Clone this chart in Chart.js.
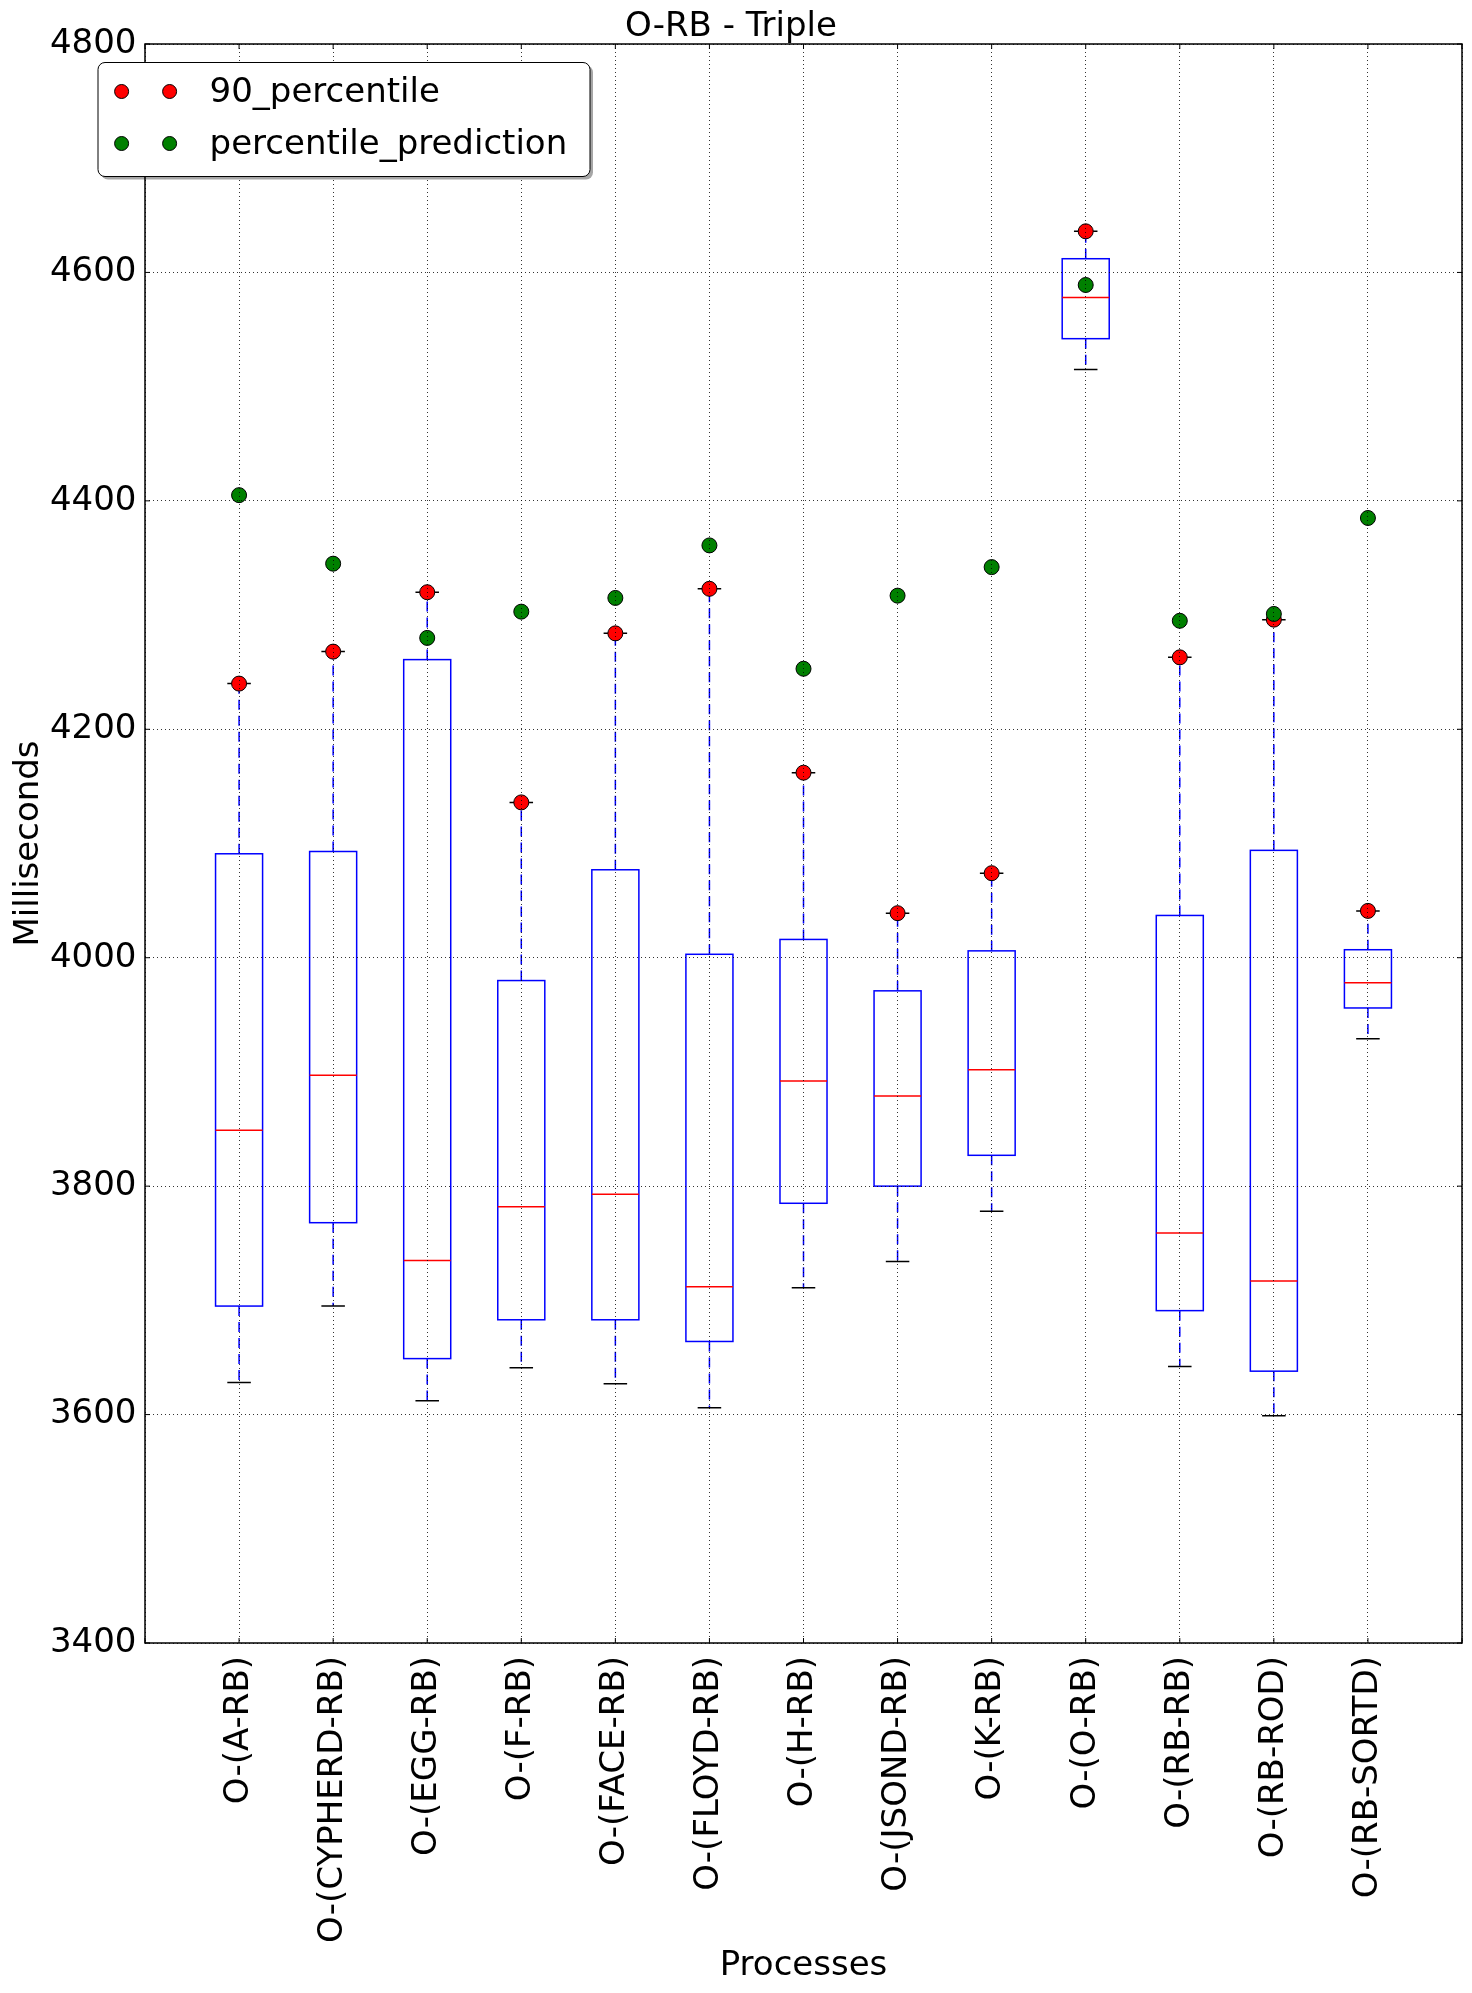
<!DOCTYPE html>
<html>
<head>
<title>O-RB - Triple</title>
<script src="https://cdn.jsdelivr.net/npm/chart.js@4.4.0/dist/chart.umd.min.js"></script>
<style>
  body { margin: 0; background: #fff; }
</style>
</head>
<body>
<canvas id="box" width="1472" height="1993"></canvas>
<script>
// boxplot stats, one entry per process
var processes = ['O-(A-RB)', 'O-(CYPHERD-RB)', 'O-(EGG-RB)', 'O-(F-RB)', 'O-(FACE-RB)', 'O-(FLOYD-RB)',
  'O-(H-RB)', 'O-(JSOND-RB)', 'O-(K-RB)', 'O-(O-RB)', 'O-(RB-RB)', 'O-(RB-ROD)', 'O-(RB-SORTD)'];
var whiskerLow   = [3628, 3695, 3612, 3641, 3627, 3606, 3711, 3734, 3778, 4515, 3642, 3599, 3929];
var quartileLow  = [3695, 3768, 3649, 3683, 3683, 3664, 3785, 3800, 3827, 4542, 3691, 3638, 3956];
var medians      = [3849, 3897, 3735, 3782, 3793, 3712, 3892, 3879, 3902, 4578, 3759, 3717, 3978];
var quartileHigh = [4091, 4093, 4261, 3980, 4077, 4003, 4016, 3971, 4006, 4612, 4037, 4094, 4007];
var whiskerHigh  = [4240, 4268, 4320, 4136, 4284, 4323, 4162, 4039, 4074, 4636, 4263, 4296, 4041];
var percentile90 = [4240, 4268, 4320, 4136, 4284, 4323, 4162, 4039, 4074, 4636, 4263, 4296, 4041];
var percentilePrediction = [4405, 4345, 4280, 4303, 4315, 4361, 4253, 4317, 4342, 4589, 4295, 4301, 4385];

Chart.defaults.font.family = "'DejaVu Sans', sans-serif";
Chart.defaults.font.size = 34;
Chart.defaults.color = '#000';

function toPoints(values) {
  return values.map(function (v, i) { return {x: i + 1, y: v}; });
}

// draws the boxes + whiskers under the scatter points
var boxPlugin = {
  id: 'boxes',
  beforeDatasetsDraw: function (chart) {
    var ctx = chart.ctx, xs = chart.scales.x, ys = chart.scales.y;
    ctx.save();
    ctx.lineWidth = 1.5;
    processes.forEach(function (p, i) {
      var cx = xs.getPixelForValue(i + 1);
      var half = xs.getPixelForValue(i + 1.25) - cx;
      var cap = half / 2;
      var top = ys.getPixelForValue(quartileHigh[i]);
      var bot = ys.getPixelForValue(quartileLow[i]);
      var hi = ys.getPixelForValue(whiskerHigh[i]);
      var lo = ys.getPixelForValue(whiskerLow[i]);
      var med = ys.getPixelForValue(medians[i]);

      ctx.strokeStyle = '#0000ff';
      ctx.setLineDash([10, 6]);
      ctx.beginPath(); ctx.moveTo(cx, top); ctx.lineTo(cx, hi); ctx.stroke();
      ctx.beginPath(); ctx.moveTo(cx, bot); ctx.lineTo(cx, lo); ctx.stroke();
      ctx.setLineDash([]);

      ctx.strokeStyle = '#000';
      ctx.beginPath();
      ctx.moveTo(cx - cap, hi); ctx.lineTo(cx + cap, hi);
      ctx.moveTo(cx - cap, lo); ctx.lineTo(cx + cap, lo);
      ctx.stroke();

      ctx.strokeStyle = '#0000ff';
      ctx.strokeRect(cx - half, top, half * 2, bot - top);

      ctx.strokeStyle = '#ff0000';
      ctx.beginPath(); ctx.moveTo(cx - half, med); ctx.lineTo(cx + half, med); ctx.stroke();
    });
    ctx.restore();
  }
};

// frame, inward ticks and the matplotlib-ish legend box
var framePlugin = {
  id: 'frame',
  afterDraw: function (chart) {
    var ctx = chart.ctx, ca = chart.chartArea, xs = chart.scales.x, ys = chart.scales.y;
    ctx.save();
    ctx.strokeStyle = '#000';
    ctx.lineWidth = 1;
    ctx.beginPath();
    ys.ticks.forEach(function (t) {
      var py = ys.getPixelForValue(t.value);
      ctx.moveTo(ca.left, py); ctx.lineTo(ca.left + 5, py);
      ctx.moveTo(ca.right, py); ctx.lineTo(ca.right - 5, py);
    });
    xs.ticks.forEach(function (t) {
      var px = xs.getPixelForValue(t.value);
      ctx.moveTo(px, ca.top); ctx.lineTo(px, ca.top + 5);
      ctx.moveTo(px, ca.bottom); ctx.lineTo(px, ca.bottom - 5);
    });
    ctx.stroke();
    ctx.lineWidth = 1.5;
    ctx.strokeRect(ca.left, ca.top, ca.right - ca.left, ca.bottom - ca.top);

    // legend
    var bx = ca.left - 47, by = ca.top + 18.5, bw = 492, bh = 114;
    ctx.fillStyle = 'rgba(0,0,0,0.35)';
    ctx.beginPath(); ctx.roundRect(bx + 3, by + 3, bw, bh, 7); ctx.fill();
    ctx.fillStyle = '#fff';
    ctx.beginPath(); ctx.roundRect(bx, by, bw, bh, 7); ctx.fill();
    ctx.lineWidth = 1;
    ctx.strokeStyle = '#000';
    ctx.stroke();
    ctx.font = "34px 'DejaVu Sans'";
    ctx.textBaseline = 'middle';
    chart.data.datasets.forEach(function (ds, i) {
      var ry = by + 29 + i * 52;
      [bx + 23.6, bx + 71.6].forEach(function (dx) {
        ctx.beginPath(); ctx.arc(dx, ry, 7, 0, Math.PI * 2);
        ctx.fillStyle = ds.backgroundColor; ctx.fill();
        ctx.strokeStyle = '#000'; ctx.stroke();
      });
      ctx.fillStyle = '#000';
      ctx.fillText(ds.label, bx + 111.6, ry + 2);
    });
    ctx.restore();
  }
};

new Chart(document.getElementById('box'), {
  type: 'scatter',
  data: {
    datasets: [
      {
        label: '90_percentile',
        data: toPoints(percentile90),
        backgroundColor: '#ff0000',
        borderColor: '#000',
        borderWidth: 1,
        pointRadius: 7.5,
        order: 2
      },
      {
        label: 'percentile_prediction',
        data: toPoints(percentilePrediction),
        backgroundColor: '#008000',
        borderColor: '#000',
        borderWidth: 1,
        pointRadius: 7.5,
        order: 1
      }
    ]
  },
  options: {
    responsive: false,
    animation: false,
    events: [],
    layout: { padding: { left: 0, right: 10, top: 0, bottom: 0 } },
    plugins: {
      legend: { display: false },
      tooltip: { enabled: false },
      title: {
        display: true,
        text: 'O-RB - Triple',
        color: '#000',
        font: { size: 34, weight: 'normal', lineHeight: 1 },
        padding: { top: 10, bottom: 0 }
      }
    },
    scales: {
      x: {
        type: 'linear',
        min: 0,
        max: 14,
        afterFit: function (s) { s.height = 350; s.paddingLeft = 0; s.paddingRight = 0; },
        ticks: {
          stepSize: 1,
          autoSkip: false,
          maxRotation: 90,
          minRotation: 90,
          padding: 13,
          color: '#000',
          callback: function (v) { return processes[v - 1] || ''; }
        },
        grid: { color: 'rgba(0,0,0,0.8)', lineWidth: 1, drawTicks: false, z: 1 },
        border: { display: false, dash: [1, 3] },
        title: {
          display: true,
          text: 'Processes',
          color: '#000',
          font: { size: 34, lineHeight: 1 },
          padding: { top: 0, bottom: 9.5 }
        }
      },
      y: {
        min: 3400,
        max: 4800,
        afterFit: function (s) { s.width = 145; },
        ticks: {
          stepSize: 200,
          padding: 8.5,
          color: '#000',
          callback: function (v) { return String(v); }
        },
        grid: { color: 'rgba(0,0,0,0.8)', lineWidth: 1, drawTicks: false, z: 1 },
        border: { display: false, dash: [1, 3] },
        title: {
          display: true,
          text: 'Milliseconds',
          color: '#000',
          font: { size: 34, lineHeight: 1 },
          padding: { top: 12.5, bottom: 0 }
        }
      }
    }
  },
  plugins: [boxPlugin, framePlugin]
});
</script>
</body>
</html>
